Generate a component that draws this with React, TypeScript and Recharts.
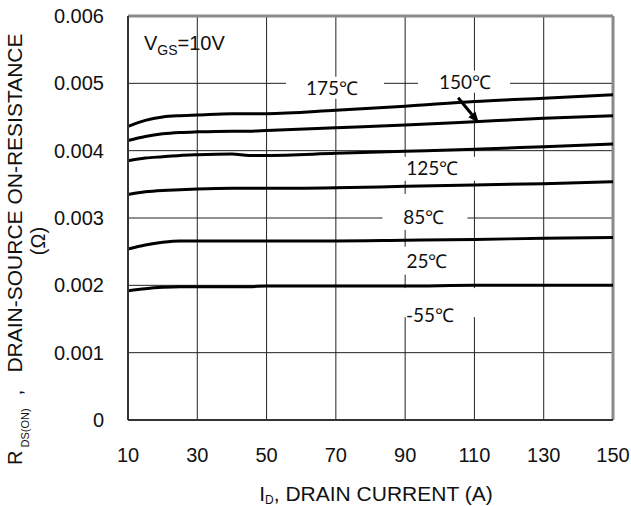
import { LineChart, Line, XAxis, YAxis, CartesianGrid, ReferenceDot, ReferenceLine } from "recharts";

const current = [10, 15, 20, 25, 30, 40, 45, 50, 70, 90, 110, 130, 150];

const r175 = [0.00436, 0.00445, 0.0045, 0.00452, 0.00453, 0.00455, 0.00455, 0.00455, 0.0046, 0.00466, 0.00473, 0.00478, 0.00483];
const r150 = [0.00415, 0.00421, 0.00425, 0.00427, 0.00428, 0.00429, 0.00429, 0.0043, 0.00434, 0.00438, 0.00443, 0.00448, 0.00452];
const r125 = [0.00385, 0.00389, 0.00391, 0.00393, 0.00394, 0.00395, 0.00393, 0.00393, 0.00396, 0.00399, 0.00402, 0.00406, 0.0041];
const r85 = [0.00335, 0.00339, 0.00341, 0.00342, 0.00343, 0.00344, 0.00344, 0.00344, 0.00345, 0.00347, 0.00349, 0.00351, 0.00354];
const r25 = [0.00254, 0.0026, 0.00264, 0.00266, 0.00266, 0.00266, 0.00266, 0.00266, 0.00266, 0.00267, 0.00268, 0.0027, 0.00271];
const rm55 = [0.00192, 0.00195, 0.00197, 0.00198, 0.00198, 0.00198, 0.00198, 0.00199, 0.00199, 0.00199, 0.002, 0.002, 0.002];

const xTicks = [10, 30, 50, 70, 90, 110, 130, 150];
const yTicks = [0, 0.001, 0.002, 0.003, 0.004, 0.005, 0.006];

const seriesKeys = ["t175", "t150", "t125", "t85", "t25", "tm55"];
const seriesValues = [r175, r150, r125, r85, r25, rm55];

const data = current.map((id, i) => {
  const row: Record<string, number> = { id };
  seriesKeys.forEach((k, j) => (row[k] = seriesValues[j][i]));
  return row;
});

// temperature labels: text anchor point + white box that cuts the grid
const tempLabels = [
  { text: "175℃", x: 68.9, y: 0.004935, dx: 3, dy: 0, w: 98, h: 22 },
  { text: "150℃", x: 107.3, y: 0.005025, dx: -1, dy: 0, w: 92, h: 22 },
  { text: "125℃", x: 97.8, y: 0.003746, dx: 7, dy: 1, w: 73, h: 24 },
  { text: "85℃", x: 95.4, y: 0.003016, dx: 1, dy: -5, w: 85, h: 36 },
  { text: "25℃", x: 96.3, y: 0.002366, dx: 1, dy: 0, w: 55, h: 28 },
  { text: "-55℃", x: 97.2, y: 0.001565, dx: 10, dy: -12, w: 75, h: 29 },
];

const labelFont = "Lato, sans-serif";
const axisFont = "'Liberation Sans', Arial, sans-serif";

function TempLabel(props: any) {
  const { cx, cy, lab } = props;
  return (
    <g>
      <rect x={cx + lab.dx - lab.w / 2} y={cy + lab.dy - lab.h / 2} width={lab.w} height={lab.h} fill="#fff" />
      <text x={cx} y={cy} textAnchor="middle" dominantBaseline="central" fontFamily={labelFont} fontSize={19} fill="#111">
        {lab.text}
      </text>
    </g>
  );
}

function Arrow(props: any) {
  const { x1, y1, x2, y2 } = props;
  const a = Math.atan2(y2 - y1, x2 - x1);
  const L = 11;
  const W = 4.5;
  const bx = x2 - L * Math.cos(a);
  const by = y2 - L * Math.sin(a);
  const p1 = `${bx + W * Math.sin(a)},${by - W * Math.cos(a)}`;
  const p2 = `${bx - W * Math.sin(a)},${by + W * Math.cos(a)}`;
  return (
    <g>
      <line x1={x1} y1={y1} x2={bx} y2={by} stroke="#000" strokeWidth={3} />
      <polygon points={`${x2},${y2} ${p1} ${p2}`} fill="#000" />
    </g>
  );
}

function VgsLabel(props: any) {
  const { cx, cy } = props;
  return (
    <text x={cx} y={cy} fontFamily={axisFont} fontSize={20} fill="#111">
      V<tspan fontSize={14} dy={5}>GS</tspan>
      <tspan dy={-5}>=10V</tspan>
    </text>
  );
}

export default function App() {
  return (
    <div style={{ position: "absolute", left: 0, top: 0, background: "#fff" }}>
      <LineChart width={631} height={506} data={data} margin={{ top: 16, right: 18, bottom: 0, left: 0 }}>
        <CartesianGrid stroke="#222" strokeWidth={1} />
        <XAxis
          dataKey="id"
          type="number"
          domain={[10, 150]}
          ticks={xTicks}
          interval={0}
          height={86}
          tickSize={0}
          tickMargin={28}
          axisLine={{ stroke: "#333", strokeWidth: 2 }}
          tick={{ fill: "#111", fontSize: 20, fontFamily: axisFont }}
        />
        <YAxis
          type="number"
          domain={[0, 0.006]}
          ticks={yTicks}
          interval={0}
          width={128}
          tickSize={0}
          tickMargin={24}
          axisLine={{ stroke: "#333", strokeWidth: 2 }}
          tick={{ fill: "#111", fontSize: 20, fontFamily: axisFont }}
          tickFormatter={(v: number) => String(v)}
        />
        <ReferenceLine y={0.006} stroke="#8a8a8a" strokeWidth={3} />
        <ReferenceLine x={150} stroke="#8a8a8a" strokeWidth={3} />
        {tempLabels.map((lab) => (
          <ReferenceDot
            key={lab.text}
            x={lab.x}
            y={lab.y}
            r={0}
            shape={(p: any) => <TempLabel {...p} lab={lab} />}
          />
        ))}
        <ReferenceDot x={14.6} y={0.00549} r={0} shape={(p: any) => <VgsLabel {...p} />} />
        {seriesKeys.map((k) => (
          <Line key={k} dataKey={k} type="monotone" stroke="#000" strokeWidth={3} dot={false} isAnimationActive={false} />
        ))}
        <ReferenceLine
          segment={[
            { x: 105.3, y: 0.004785 },
            { x: 111.3, y: 0.004412 },
          ]}
          shape={(p: any) => <Arrow {...p} />}
        />
        <text transform="rotate(-90, 22, 465)" x={22} y={465} textAnchor="start" fontFamily={axisFont} fontSize={20} fill="#111" style={{ whiteSpace: "pre" }}>
          R<tspan fontSize={11} dx={3} dy={7}>DS(ON)</tspan>
          <tspan fontSize={21} dx={13} dy={-7}>,</tspan>
          <tspan fontSize={21} dx={17}>DRAIN-SOURCE ON-RESISTANCE</tspan>
        </text>
        <text transform="rotate(-90, 45, 241)" x={45} y={241} textAnchor="middle" fontFamily={axisFont} fontSize={20} fill="#111">
          (Ω)
        </text>
        <text x={376} y={501} textAnchor="middle" fontFamily={axisFont} fontSize={21} fill="#111">
          I<tspan fontSize={12} dy={3}>D</tspan>
          <tspan dy={-3}>, DRAIN CURRENT (A)</tspan>
        </text>
      </LineChart>
    </div>
  );
}
